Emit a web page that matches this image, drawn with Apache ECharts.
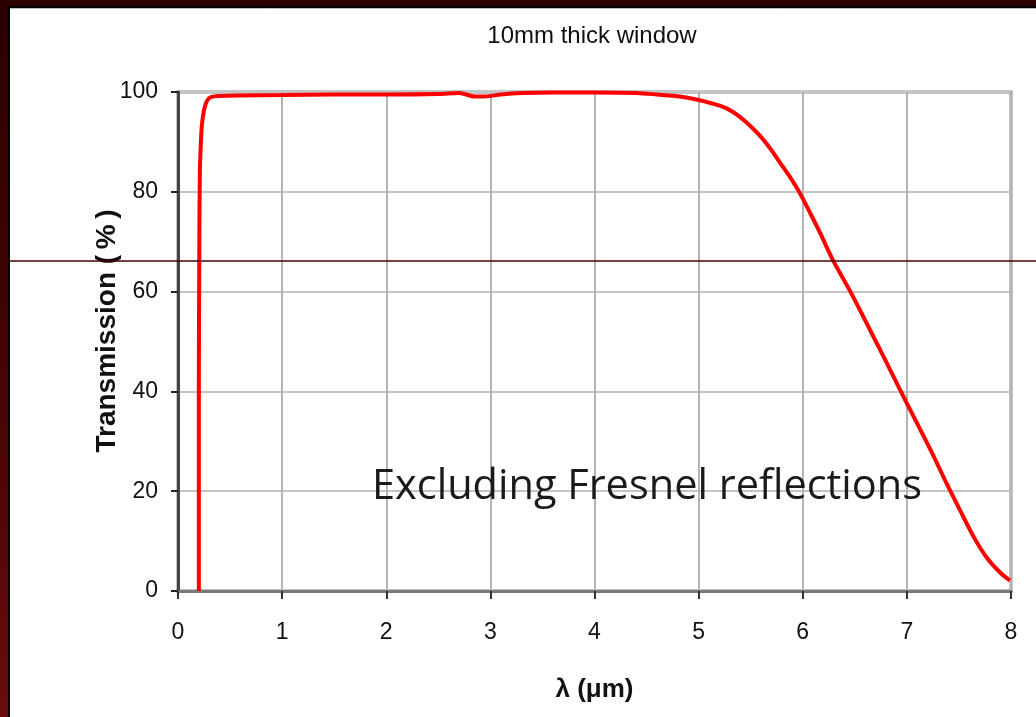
<!DOCTYPE html>
<html>
<head>
<meta charset="utf-8">
<title>10mm thick window</title>
<script src="https://cdn.jsdelivr.net/npm/echarts@6/dist/echarts.min.js"></script>
<style>
  html, body { margin: 0; padding: 0; background: #2a0202; }
  #chart { width: 1036px; height: 717px; }
</style>
</head>
<body>
<div id="chart"></div>
<script>
// Transmission spectrum of a 10 mm thick window (Fresnel losses excluded)
const wavelengthUm = [
  0.20, 0.20, 0.205, 0.21, 0.22, 0.23, 0.25, 0.28, 0.32, 0.40, 0.60, 1.00, 1.50, 2.00,
  2.50, 2.70, 2.85, 2.95, 3.10, 3.30, 3.60, 4.00, 4.40, 4.60, 4.82, 5.00, 5.21, 5.33,
  5.46, 5.59, 5.69, 5.78, 5.88, 5.965, 6.07, 6.17, 6.295, 6.455, 6.615, 6.775,
  6.935, 7.00, 7.13, 7.26, 7.38, 7.51, 7.64, 7.77, 7.90, 7.99
];
const transmissionPct = [
  0.0, 40.0, 70.0, 84.0, 90.0, 93.5, 96.4, 98.3, 99.0, 99.2, 99.3, 99.4, 99.5, 99.5,
  99.6, 99.8, 99.1, 99.1, 99.5, 99.8, 99.9, 99.9, 99.8, 99.5, 99.1, 98.4, 97.2, 96.0,
  93.9, 91.2, 88.6, 85.9, 82.9, 80.0, 75.8, 71.6, 66.1, 60.1, 53.6, 47.0,
  40.3, 37.6, 32.3, 26.9, 21.6, 16.2, 10.9, 6.6, 3.6, 2.1
];
const xTicks = [0, 1, 2, 3, 4, 5, 6, 7, 8];
const yTicks = [0, 20, 40, 60, 80, 100];

const chartTitle = '10mm thick window';
const xAxisTitle = 'λ (μm)';
const yAxisTitle = 'Transmission (\u2009%\u2009)';
const noteText = 'Excluding Fresnel reflections';

const points = wavelengthUm.map((x, i) => [x, transmissionPct[i]]);

const chart = echarts.init(document.getElementById('chart'));
const W = 1036, H = 717;
const sans = '"Liberation Sans", Arial, sans-serif';

chart.setOption({
  backgroundColor: 'transparent',
  animation: false,
  title: {
    text: chartTitle,
    left: 587, top: 19,
    textAlign: 'center',
    textStyle: { fontFamily: sans, fontSize: 24, fontWeight: 'normal', color: '#111' }
  },
  grid: {
    left: 178, right: 25, top: 92, bottom: 126,
    show: true, borderColor: '#8a8a8a', borderWidth: 3, backgroundColor: '#fff'
  },
  xAxis: {
    type: 'value',
    min: xTicks[0], max: xTicks[xTicks.length - 1], interval: 1,
    name: xAxisTitle,
    nameLocation: 'middle', nameGap: 86,
    nameTextStyle: { fontFamily: sans, fontSize: 26, fontWeight: 'bold', color: '#111' },
    axisLine: { show: true, onZero: false, lineStyle: { color: '#7a7a7a', width: 3 } },
    axisTick: { show: true, inside: false, length: 8, lineStyle: { color: '#333', width: 2 } },
    axisLabel: { margin: 30, fontFamily: sans, fontSize: 23, color: '#111' },
    splitLine: { show: true, lineStyle: { color: '#b4b4b4', width: 2 } }
  },
  yAxis: {
    type: 'value',
    min: yTicks[0], max: yTicks[yTicks.length - 1], interval: 20,
    axisLine: { show: true, lineStyle: { color: '#444', width: 3 } },
    axisTick: { show: true, inside: false, length: 7, lineStyle: { color: '#222', width: 2 } },
    axisLabel: { margin: 20, fontFamily: sans, fontSize: 23, color: '#111' },
    splitLine: { show: true, lineStyle: { color: '#c4c4c4', width: 2 } }
  },
  series: [{
    type: 'line',
    data: points,
    showSymbol: false,
    smooth: 0.3,
    lineStyle: { color: '#ff0000', width: 4 },
    z: 3
  }],
  graphic: [
    // slide frame: dark border strips on top and left, white page behind the chart
    { type: 'rect', z: -100, shape: { x: 0, y: 0, width: W, height: H },
      style: { fill: new echarts.graphic.LinearGradient(0, 0, 0, 1, [
        { offset: 0, color: '#2a0000' }, { offset: 0.6, color: '#4a0505' }, { offset: 1, color: '#6a0c0c' }]) } },
    { type: 'rect', z: -99, shape: { x: 8, y: 6, width: W - 8, height: H - 6 }, style: { fill: '#000' } },
    { type: 'rect', z: -98, shape: { x: 10, y: 8, width: W - 10, height: H - 8 }, style: { fill: '#fff' } },
    { type: 'line', z: -97, shape: { x1: 10, y1: 8.5, x2: W, y2: 8.5 }, style: { stroke: '#bbb', lineWidth: 1 } },
    // vertical axis title
    { type: 'text', z: 50, x: 107, y: 331, rotation: Math.PI / 2,
      style: { text: yAxisTitle, font: 'bold 28px "Liberation Sans"', fill: '#111',
               align: 'center', verticalAlign: 'middle' } },
    // annotation
    { type: 'text', z: 50, left: 372, top: 466,
      style: { text: noteText, font: '41.5px "Open Sans"', fill: '#1a1a1a' } },
    // thin guide line across the slide
    { type: 'line', z: 100, shape: { x1: 10, y1: 261, x2: W, y2: 261 },
      style: { stroke: '#4a0000', lineWidth: 1.5 } }
  ]
});
</script>
</body>
</html>
